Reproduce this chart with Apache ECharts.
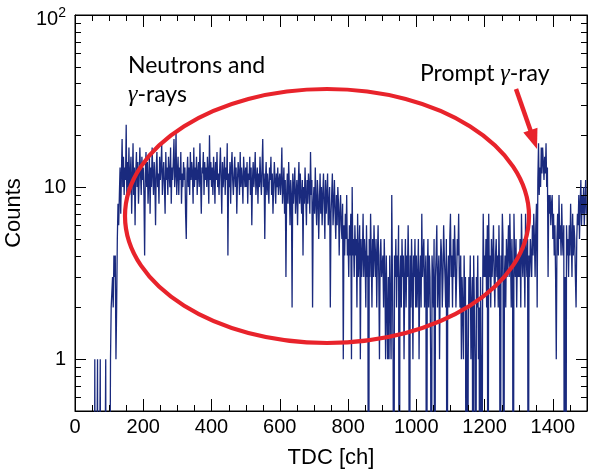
<!DOCTYPE html>
<html><head><meta charset="utf-8">
<script src="https://cdn.jsdelivr.net/npm/echarts@6/dist/echarts.min.js"></script>
<style>html,body{margin:0;padding:0;background:#fff}#c{width:590px;height:474px}</style>
</head><body><div id="c"></div>
<script>
// TDC histogram, bins of 2 channels, counts
const binWidth = 2;
const counts_0000_0100 = [0,0,0,0,0,0,0,0,0,0,0,0,0,0,0,0,0,0,0,0,0,0,0,0,0,0,0,0,0,
  1,0,0,0,1,0,0,0,1,0,0,0,0,0,0,0,1,0,0,0,0];
const counts_0100_0200 = [0,0,1,2,2,3,2,4,3,4, 1,2,5,8,6,9,13,7,12,19,
  10,15,9,13,11,23,8,14,10,17, 9,12,15,7,11,18,9,13,6,12, 16,10,14,8,11,17,12,9,15,11];
const counts_0200_0300 = [13,9,4,12,16,10,14,8,11,15, 7,13,10,17,12,9,14,11,6,13,
  16,10,12,8,15,11,13,18,9,12, 14,10,7,16,11,13,9,15,12,10, 17,8,13,11,14,19,10,12,21,9];
const counts_0300_0400 = [12,15,9,13,11,16,8,12,10,14, 11,13,7,5,12,15,10,13,9,16,
  11,14,12,8,17,10,13,11,15,9, 12,14,10,18,11,7,13,12,16,9, 14,11,13,10,15,12,8,20,11,14];
const counts_0400_0500 = [10,13,9,15,12,8,14,11,16,10, 12,9,13,17,11,7,14,10,12,15,
  9,13,11,18,4,12,10,14,8,13, 16,11,9,12,15,10,13,7,11,14, 12,9,16,10,13,11,8,15,12,10];
const counts_0500_0600 = [13,10,14,8,12,11,15,9,13,6, 11,14,10,12,16,9,11,13,8,12,
  10,15,11,9,13,19,10,12,5,11, 14,9,12,10,8,13,11,15,9,12, 7,10,14,11,8,12,10,13,9,11];
const counts_0600_0700 = [12,9,11,17,8,10,13,7,11,3, 9,12,8,14,10,6,11,9,2,12,
  8,10,13,7,9,11,6,10,14,8, 12,9,7,11,4,10,8,13,9,6, 11,8,12,10,7,16,9,11,2,8];
const counts_0700_0800 = [10,7,13,8,6,11,9,5,8,12, 7,10,6,9,12,8,5,11,7,9,
  12,6,8,10,2,7,9,12,6,8, 11,7,5,9,6,10,8,4,7,9, 6,5,8,1,6,4,7,5,9,4];
const counts_0800_0900 = [5,3,6,4,7,1,10,4,5,3, 6,4,5,2,7,3,4,6,1,5,
  3,4,7,3,5,4,2,6,3,4, 0,5,3,7,4,2,5,3,6,4, 3,5,2,4,6,3,1,4,5,3];
const counts_0900_1000 = [3,4,2,5,3,1,4,2,1,3, 1,4,2,1,9,3,1,0,4,3,
  5,2,4,3,6,0,3,4,2,5, 3,4,1,3,5,2,4,3,6,3, 0,4,2,5,3,1,4,3,5,2];
const counts_1000_1100 = [4,2,3,5,1,3,4,2,7,3, 4,5,2,3,4,0,3,5,2,4,
  3,1,0,4,3,2,5,0,3,4, 6,2,3,4,1,3,5,4,2,3, 6,4,3,2,5,0,3,4,2,5];
const counts_1100_1200 = [7,3,4,2,5,3,6,4,2,3, 5,4,7,3,2,4,1,3,2,1,
  4,2,3,0,2,0,1,3,2,4, 1,2,3,0,4,2,1,0,3,2, 4,1,2,0,3,1,0,2,7,3];
const counts_1200_1300 = [4,3,5,2,6,0,7,3,4,2, 5,3,4,6,3,2,4,5,3,4,
  2,6,3,0,4,3,7,5,0,3, 4,2,5,3,4,6,3,7,4,2, 5,3,0,7,4,3,5,2,4,3];
const counts_1300_1400 = [4,3,5,2,7,4,3,5,4,2, 7,4,3,5,0,4,3,5,4,3,
  6,4,7,5,3,6,8,2,11,18, 9,13,10,17,12,17,14,11,15,12, 18,10,13,3,9,7,9,6,8,9];
const counts_1400_1500 = [5,7,4,6,3,1,5,7,4,9, 5,6,4,8,5,4,6,0,3,0,
  6,4,5,3,6,4,8,5,3,7, 4,6,5,3,2,5,7,6,9,5, 8,11,6,9,7,10,6,8,11,7];

const xMajorTicks = [0,200,400,600,800,1000,1200,1400];
const xMinorTicks = [50,100,150,250,300,350,450,500,550,650,700,750,850,900,950,1050,1100,1150,1250,1300,1350,1450];
const yLabelValues = [1,10,100];
const yMinorTicks = [0.6,0.7,0.8,0.9,2,3,4,5,6,7,8,9,20,30,40,50,60,70,80,90];

const counts = [].concat(counts_0000_0100, counts_0100_0200, counts_0200_0300, counts_0300_0400,
  counts_0400_0500, counts_0500_0600, counts_0600_0700, counts_0700_0800, counts_0800_0900,
  counts_0900_1000, counts_1000_1100, counts_1100_1200, counts_1200_1300, counts_1300_1400, counts_1400_1500);

// empty bins are drawn down to the frame bottom (value below axis min, clipped)
const histData = counts.map((c, i) => [i * binWidth, c > 0 ? c : 0.01]);
histData.push([counts.length * binWidth, counts[counts.length - 1] > 0 ? counts[counts.length - 1] : 0.01]);

const FONT = 'Liberation Sans';
const chart = echarts.init(document.getElementById('c'), null, {renderer: 'canvas'});

const axisLine = {show: true, onZero: false, lineStyle: {color: '#000', width: 1}};
const option = {
  animation: false,
  backgroundColor: '#fff',
  grid: {left: 75, right: 3, top: 15, bottom: 63, containLabel: false, outerBoundsMode: 'none',
    show: true, borderColor: '#000', borderWidth: 1, backgroundColor: 'transparent'},
  xAxis: [
    {type: 'value', position: 'bottom', min: 0, max: 1500, interval: 200,
      axisLine: axisLine,
      axisTick: {show: true, inside: true, length: 12, lineStyle: {color: '#000'}},
      axisLabel: {fontFamily: FONT, fontSize: 20, color: '#000', margin: 6,
        formatter: v => xMajorTicks.indexOf(v) >= 0 ? String(v) : ''},
      splitLine: {show: false},
      name: 'TDC [ch]', nameLocation: 'middle', nameGap: 36,
      nameTextStyle: {fontFamily: FONT, fontSize: 22, color: '#000'}},
    {type: 'value', position: 'top', min: 0, max: 1500, interval: 200,
      axisLine: axisLine,
      axisTick: {show: true, inside: true, length: 12, lineStyle: {color: '#000'}},
      axisLabel: {show: false}, splitLine: {show: false}}
  ],
  yAxis: [
    {type: 'log', logBase: 10, position: 'left', min: 0.5, max: 100,
      axisLine: axisLine,
      axisTick: {show: true, inside: true, length: 11, lineStyle: {color: '#000'}},
      axisLabel: {fontFamily: FONT, fontSize: 20, color: '#000', margin: 9,
        formatter: v => {
          if (Math.abs(v - 100) < 1e-6) return '{b|10}{s|2}';
          if (Math.abs(v - 10) < 1e-6) return '10';
          if (Math.abs(v - 1) < 1e-6) return '1';
          return '';
        },
        rich: {
          b: {fontFamily: FONT, fontSize: 20, color: '#000', padding: [8, 0, 0, 0]},
          s: {fontFamily: FONT, fontSize: 14, color: '#000', padding: [0, 0, 4, 0]}
        }},
      splitLine: {show: false},
      name: 'Counts', nameLocation: 'middle', nameGap: 41, nameRotate: 90,
      nameTextStyle: {fontFamily: FONT, fontSize: 22, color: '#000'}},
    {type: 'log', logBase: 10, position: 'right', min: 0.5, max: 100,
      axisLine: axisLine,
      axisTick: {show: true, inside: true, length: 11, lineStyle: {color: '#000'}},
      axisLabel: {show: false}, splitLine: {show: false}}
  ],
  series: [{
    type: 'line', step: 'end', data: histData, xAxisIndex: 0, yAxisIndex: 0,
    showSymbol: false, symbol: 'none', clip: true, silent: true, sampling: undefined,
    lineStyle: {color: '#1a2a7e', width: 1.3}
  }]
};
chart.setOption(option);

// minor ticks and annotations
const gx = v => chart.convertToPixel({xAxisIndex: 0}, v);
const gy = v => chart.convertToPixel({yAxisIndex: 0}, v);
const L = gx(0), R = gx(1500), B = gy(0.5), T = gy(100);
const g = [];
const tickStyle = {stroke: '#000', lineWidth: 1};
xMinorTicks.forEach(v => {
  const px = Math.round(gx(v)) + 0.5;
  g.push({type: 'line', shape: {x1: px, y1: B, x2: px, y2: B - 6}, style: tickStyle, silent: true, z: 50});
  g.push({type: 'line', shape: {x1: px, y1: T, x2: px, y2: T + 6}, style: tickStyle, silent: true, z: 50});
});
yMinorTicks.forEach(v => {
  const py = Math.round(gy(v)) + 0.5;
  g.push({type: 'line', shape: {x1: L, y1: py, x2: L + 6, y2: py}, style: tickStyle, silent: true, z: 50});
  g.push({type: 'line', shape: {x1: R - 6, y1: py, x2: R, y2: py}, style: tickStyle, silent: true, z: 50});
});

const RED = '#e8232b';
g.push({type: 'ellipse', shape: {cx: 327, cy: 216, rx: 202, ry: 127},
  style: {fill: 'none', stroke: RED, lineWidth: 4.2}, silent: true, z: 60});
// arrow
const S = [516, 89], P = [537, 149];
const dx = P[0] - S[0], dy = P[1] - S[1], len = Math.hypot(dx, dy);
const ux = dx / len, uy = dy / len, nx = -uy, ny = ux;
const headL = 20, headW = 7.5;
const Bx = P[0] - ux * headL, By = P[1] - uy * headL;
g.push({type: 'line', shape: {x1: S[0], y1: S[1], x2: Bx + ux * 2, y2: By + uy * 2},
  style: {stroke: RED, lineWidth: 4.5}, silent: true, z: 60});
g.push({type: 'polygon', shape: {points: [[P[0], P[1]], [Bx + nx * headW, By + ny * headW], [Bx - nx * headW, By - ny * headW]]},
  style: {fill: RED}, silent: true, z: 60});

const TF = 'Lato';
const richG = {g: {fontFamily: 'Liberation Serif', fontStyle: 'italic', fontSize: 24, fill: '#000'}};
g.push({type: 'text', x: 128, y: 66, silent: true, z: 70,
  style: {text: 'Neutrons and', fontFamily: TF, fontSize: 23, fill: '#000', verticalAlign: 'middle'}});
g.push({type: 'text', x: 128, y: 95, silent: true, z: 70,
  style: {text: '{g|γ}-rays', fontFamily: TF, fontSize: 23, fill: '#000', verticalAlign: 'middle', rich: richG}});
g.push({type: 'text', x: 420, y: 74, silent: true, z: 70,
  style: {text: 'Prompt {g|γ}-ray', fontFamily: TF, fontSize: 23, fill: '#000', verticalAlign: 'middle', rich: richG}});

chart.setOption({graphic: g});
</script></body></html>
